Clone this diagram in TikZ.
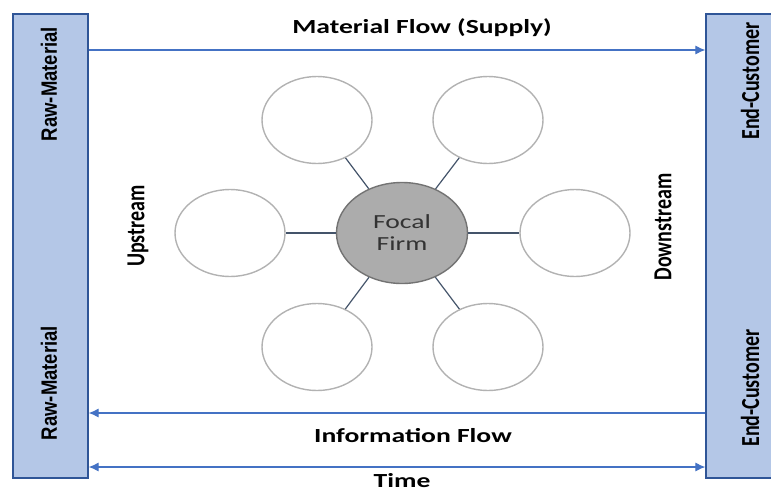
\documentclass[tikz,border=0pt]{standalone}
\usepackage{fontspec}
\setmainfont{Carlito}
\newfontfamily\arialfont{Liberation Sans}
\usetikzlibrary{shapes.geometric,arrows.meta}
\definecolor{boxBlue}{HTML}{B4C7E7}
\definecolor{boxLine}{HTML}{2F5597}
\definecolor{flowBlue}{HTML}{4472C4}
\definecolor{linkSlate}{HTML}{44546A}
%% the reference is wider than tall, so text is widened
\newcommand{\wide}[1]{\scalebox{1.38}[1]{#1}}
\newcommand{\thick}[1]{\scalebox{1}[1.3]{#1}}

\begin{document}
\begin{tikzpicture}
[x=1pt,y=-1pt,
  flowArrow/.style={-{Latex[length=10pt,width=9pt]},line width=1.1pt,color=flowBlue},%
  timeArrow/.style={{Latex[length=10pt,width=9pt]}-{Latex[length=10pt,width=9pt]},line width=1.1pt,color=flowBlue},%
  sideBox/.style={shape=rectangle,draw=boxLine,fill=boxBlue,line width=1.2pt,minimum height=464pt,inner sep=0pt},%
  partnerDecorate/.style={shape=ellipse,draw=gray!60,line width=1.4pt,minimum width=110pt,minimum height=87pt,inner sep=0pt},%
  focalDecorate/.style={shape=ellipse,draw=gray!90!black,fill=gray!65,line width=1.4pt,minimum width=131pt,minimum height=101pt,inner sep=0pt,align=center,font=\fontsize{20}{22}\selectfont,text=black!80},%
  link/.style={color=linkSlate,line width=1.2pt},%
  label/.style={font=\bfseries\fontsize{20}{22}\selectfont,inner sep=1pt}]
\path[use as bounding box,clip] (0,0) rectangle (771,493);
%% side boxes
\node (rawBox) at (50.5,246) [sideBox,minimum width=75pt] {};
\node (custBox) at (750,246) [sideBox,minimum width=88pt] {};
\foreach \nodename/\x/\y/\txt in {rawTop/49/84/Raw-Material, rawBottom/49/383/Raw-Material}
{
  \node (\nodename) at (\x,\y) [rotate=90,font=\arialfont\bfseries\fontsize{18.5}{20}\selectfont] {\scalebox{1}[1.2]{\txt}};
}
\foreach \nodename/\x/\y/\txt in {custTop/750/81/End-Customer, custBottom/750/388/End-Customer}
{
  \node (\nodename) at (\x,\y) [rotate=90,label] {\thick{\txt}};
}
%% focal firm and partners
\node (focal) at (402,233) [focalDecorate] {\wide{Focal}\\\wide{Firm}};
\foreach \nodename/\x/\y in {tl/317/120, tr/488/120, ml/230/233, mr/575/233, bl/317/347, br/488/347}
{
  \node (\nodename) at (\x,\y) [partnerDecorate] {};
}
\foreach \endnode in {tl, tr, ml, mr, bl, br}
{
  \draw[link] (focal) -- (\endnode);
}
%% stream labels
\node (up) at (138,226) [rotate=90,label] {\thick{Upstream}};
\node (down) at (663,227) [rotate=90,label] {\thick{Downstream}};
%% flows
\coordinate (supplyLevel) at (0,50);
\coordinate (infoLevel) at (0,413);
\coordinate (timeLevel) at (0,467);
\draw[flowArrow] (rawBox.east |- supplyLevel) -- (custBox.west |- supplyLevel);
\draw[flowArrow] (custBox.west |- infoLevel) -- (rawBox.east |- infoLevel);
\draw[timeArrow] (rawBox.east |- timeLevel) -- (custBox.west |- timeLevel);
\node (supply) at (422,28) [label] {\wide{Material Flow (Supply)}};
\node (info) at (413,436) [label] {\wide{Information Flow}};
\node (time) at (402,481) [label] {\wide{Time}};
\end{tikzpicture}
\end{document}
